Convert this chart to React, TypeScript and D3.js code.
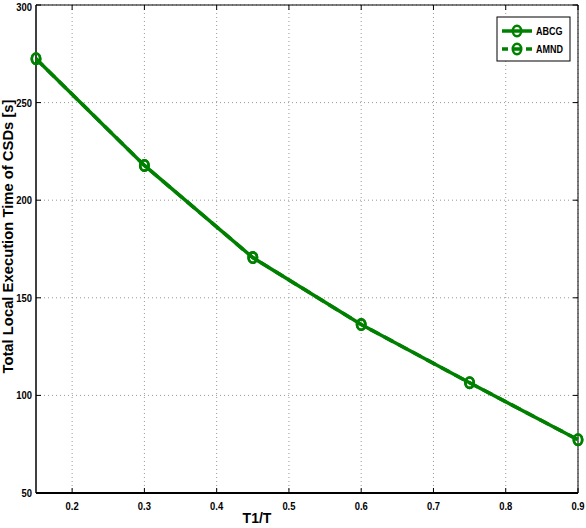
import React from "react";
import * as d3 from "d3";

const xValues = [0.15, 0.3, 0.45, 0.6, 0.75, 0.9];
const abcg = [272.5, 217.8, 170.6, 136.3, 106.5, 77.3];
const amnd = [272.5, 217.8, 170.6, 136.3, 106.5, 77.3];
const xTicks = [0.2, 0.3, 0.4, 0.5, 0.6, 0.7, 0.8, 0.9];
const yTicks = [50, 100, 150, 200, 250, 300];
const seriesNames = ["ABCG", "AMND"];

const W = 586, H = 528;
const L = 36, R = 578, T = 5, B = 493;
const GREEN = "#008000";

export default function App() {
  const x = d3.scaleLinear().domain([0.15, 0.9]).range([L, R]);
  const y = d3.scaleLinear().domain([50, 300]).range([B, T]);
  const line = d3.line<number>().x((_, i) => x(xValues[i])).y((d) => y(d));
  const font = "'Liberation Sans', Arial, sans-serif";
  const tick = 5;
  const marker = (cx: number, cy: number, k: string) => (
    <ellipse key={k} cx={cx} cy={cy} rx={4.2} ry={5.2} fill="none" stroke={GREEN} strokeWidth={2.6} />
  );
  return (
    <svg width={W} height={H} style={{ position: "absolute", left: 0, top: 0, background: "#fff" }}>
      <rect x={0} y={0} width={W} height={H} fill="#fff" />
      {xTicks.map((t) => (
        <line key={"gx" + t} x1={x(t)} x2={x(t)} y1={T} y2={B} stroke="#999" strokeWidth={1} strokeDasharray="1,3" />
      ))}
      {yTicks.map((t) => (
        <line key={"gy" + t} x1={L} x2={R} y1={y(t)} y2={y(t)} stroke="#999" strokeWidth={1} strokeDasharray="1,3" />
      ))}
      {xTicks.map((t) => (
        <g key={"tx" + t}>
          <line x1={x(t)} x2={x(t)} y1={B} y2={B - tick} stroke="#000" />
          <line x1={x(t)} x2={x(t)} y1={T} y2={T + tick} stroke="#000" />
          <text x={x(t)} y={B + 17} textAnchor="middle" fontFamily={font} fontSize={11.5} fontWeight="bold" transform={`translate(${x(t)},0) scale(0.82,1) translate(${-x(t)},0)`}>
            {t.toFixed(1)}
          </text>
        </g>
      ))}
      {yTicks.map((t) => (
        <g key={"ty" + t}>
          <line x1={L} x2={L + tick} y1={y(t)} y2={y(t)} stroke="#000" />
          <line x1={R} x2={R - tick} y1={y(t)} y2={y(t)} stroke="#000" />
          <text x={L - 4} y={Math.max(y(t) + 4, 11)} textAnchor="end" fontFamily={font} fontSize={11.5} fontWeight="bold" transform={`translate(${L - 4},0) scale(0.82,1) translate(${-(L - 4)},0)`}>
            {t}
          </text>
        </g>
      ))}
      <line x1={L} x2={R} y1={T} y2={T} stroke="#000" strokeWidth={1} />
      <line x1={R} x2={R} y1={T} y2={B} stroke="#000" strokeWidth={1} />
      <line x1={L} x2={L} y1={T} y2={B} stroke="#000" strokeWidth={1.5} />
      <line x1={L} x2={R} y1={B} y2={B} stroke="#000" strokeWidth={2} />
      <path d={line(abcg) || ""} fill="none" stroke={GREEN} strokeWidth={3.5} />
      {abcg.map((v, i) => marker(x(xValues[i]), y(v), "a" + i))}
      <path d={line(amnd) || ""} fill="none" stroke={GREEN} strokeWidth={3.5} strokeDasharray="10,6" />
      {amnd.map((v, i) => marker(x(xValues[i]), y(v), "b" + i))}
      <text x={257} y={523} textAnchor="middle" fontFamily={font} fontSize={14} fontWeight="bold">T1/T</text>
      <text transform={`translate(13,236.5) rotate(-90)`} textAnchor="middle" fontFamily={font} fontSize={14.8} fontWeight="bold">
        Total Local Execution Time of CSDs [s]
      </text>
      <rect x={497} y={17} width={73} height={44} fill="#fff" stroke="#000" strokeWidth={1} />
      {seriesNames.map((n, i) => {
        const ly = 31 + i * 18;
        return (
          <g key={n}>
            <line x1={502} x2={532} y1={ly} y2={ly} stroke={GREEN} strokeWidth={3.5} strokeDasharray={i === 1 ? "6,6" : undefined} />
            {marker(517, ly, "l" + i)}
            <text x={536} y={ly + 4} fontFamily={font} fontSize={10} fontWeight="bold" transform={`translate(536,0) scale(0.9,1) translate(-536,0)`}>{n}</text>
          </g>
        );
      })}
    </svg>
  );
}
